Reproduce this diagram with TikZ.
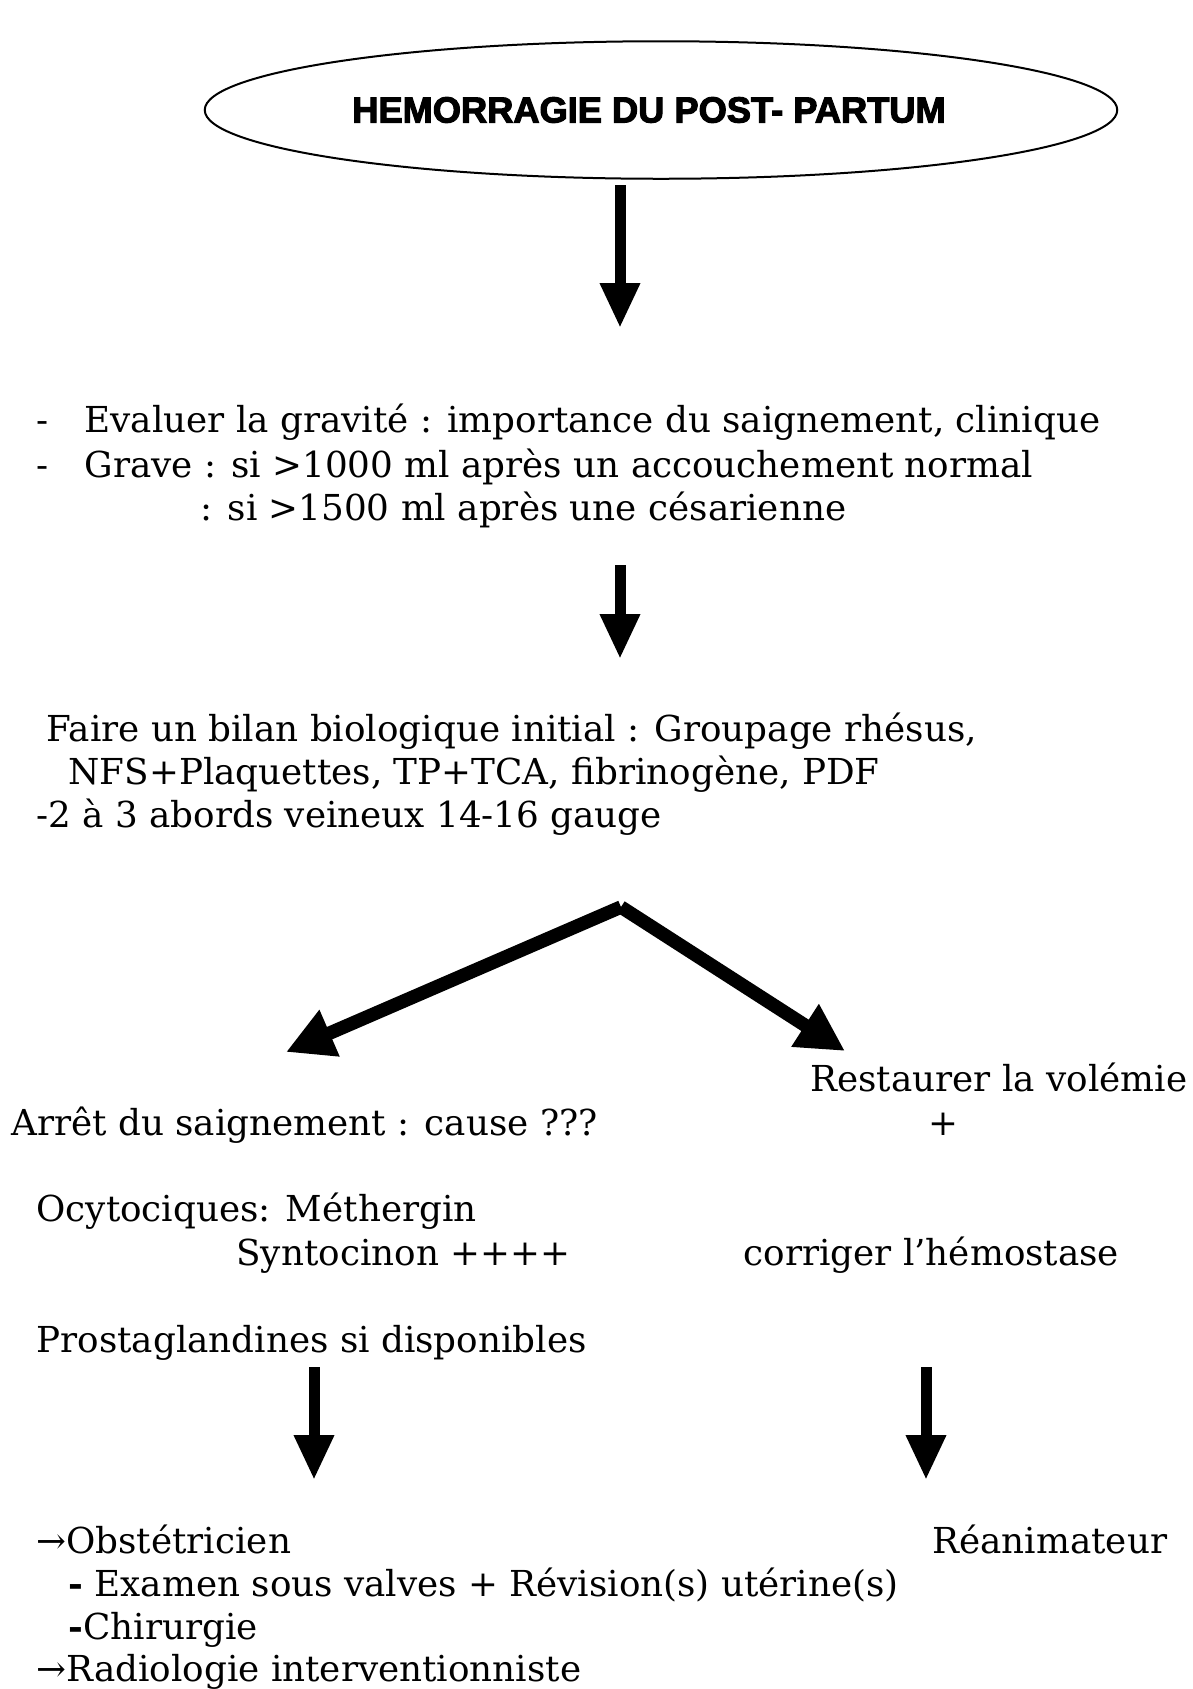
\documentclass[tikz,border=0pt]{standalone}
\usepackage{fontspec}
\setmainfont{DejaVu Serif}
\newfontfamily\titlefont[BoldFeatures={FakeBold=3}]{Liberation Sans}
\usetikzlibrary{arrows.meta, shapes.geometric}
\tikzset{
  titre/.style={
    draw,
    ellipse,
    line width=0.8pt,
    minimum width=365pt,
    minimum height=55pt,
    inner sep=0pt,
    font=\titlefont\bfseries\fontsize{14.5}{17}\selectfont
  },
  ligne/.style={anchor=base west, inner sep=0pt, font=\fontsize{14.3}{17}\selectfont},
  fleche/.style={-{Triangle[length=18pt, width=15pt]}, line width=4.4pt},
  fourche/.style={-{Triangle[length=19pt, width=19pt]}, line width=5.4pt}
}

\begin{document}
\begin{tikzpicture}[x=0.4pt,y=-0.4pt]
    \useasboundingbox (0,0) rectangle (1193,1689);
    \node[titre] (hpp) at (661,110) {HEMORRAGIE DU POST- PARTUM\hspace*{9.6pt}};

    % gravite
    \node[ligne] (grav1) at (36,432) {\makebox[19.2pt][l]{-}Evaluer la gravité : importance du saignement, clinique};
    \node[ligne] (grav2) at (36,477) {\makebox[19.2pt][l]{-}Grave : si >1000 ml après un accouchement normal};
    \node[ligne] (grav3) at (200,520) {: si >1500 ml après une césarienne};

    % bilan
    \node[ligne] (bilan1) at (46,741) {Faire un bilan biologique initial : Groupage rhésus,};
    \node[ligne] (bilan2) at (68,784) {NFS+Plaquettes, TP+TCA, fibrinogène, PDF};
    \node[ligne] (bilan3) at (36,827) {-2 à 3 abords veineux 14-16 gauge};

    % deux branches
    \node[ligne] (arret) at (11,1135) {Arrêt du saignement : cause ???};
    \node[ligne] (ocyto) at (36,1221) {Ocytociques: Méthergin};
    \node[ligne] (synto) at (236,1265) {Syntocinon ++++};
    \node[ligne] (prosta) at (36,1352) {Prostaglandines si disponibles};
    \node[ligne] (resto) at (810,1091) {Restaurer la volémie};
    \node[ligne, anchor=base] (plus) at (943,1135) {+};
    \node[ligne] (corr) at (743,1265) {corriger l’hémostase};

    % suite
    \node[ligne] (obst) at (36,1553) {→Obstétricien};
    \node[ligne] (reani) at (932,1553) {Réanimateur};
    \node[ligne] (exam) at (68,1596) {\textbf{-} Examen sous valves + Révision(s) utérine(s)};
    \node[ligne] (chir) at (68,1639) {\textbf{-}Chirurgie};
    \node[ligne] (radio) at (36,1681) {→Radiologie interventionniste};

    \coordinate (a1s) at (620,185);
    \coordinate (a1e) at (620,328);
    \coordinate (a2s) at (620,565);
    \coordinate (a2e) at (620,659);
    \coordinate (sommet) at (621,907);
    \coordinate (gauche) at (286,1052);
    \coordinate (droite) at (845,1051);
    \coordinate (a3s) at (314,1367);
    \coordinate (a3e) at (314,1480);
    \coordinate (a4s) at (926,1367);
    \coordinate (a4e) at (926,1480);

    \draw[fleche] (a1s) -- (a1e);
    \draw[fleche] (a2s) -- (a2e);
    \draw[fourche] (sommet) -- (gauche);
    \draw[fourche] (sommet) -- (droite);
    \draw[fleche] (a3s) -- (a3e);
    \draw[fleche] (a4s) -- (a4e);
\end{tikzpicture}
\end{document}
